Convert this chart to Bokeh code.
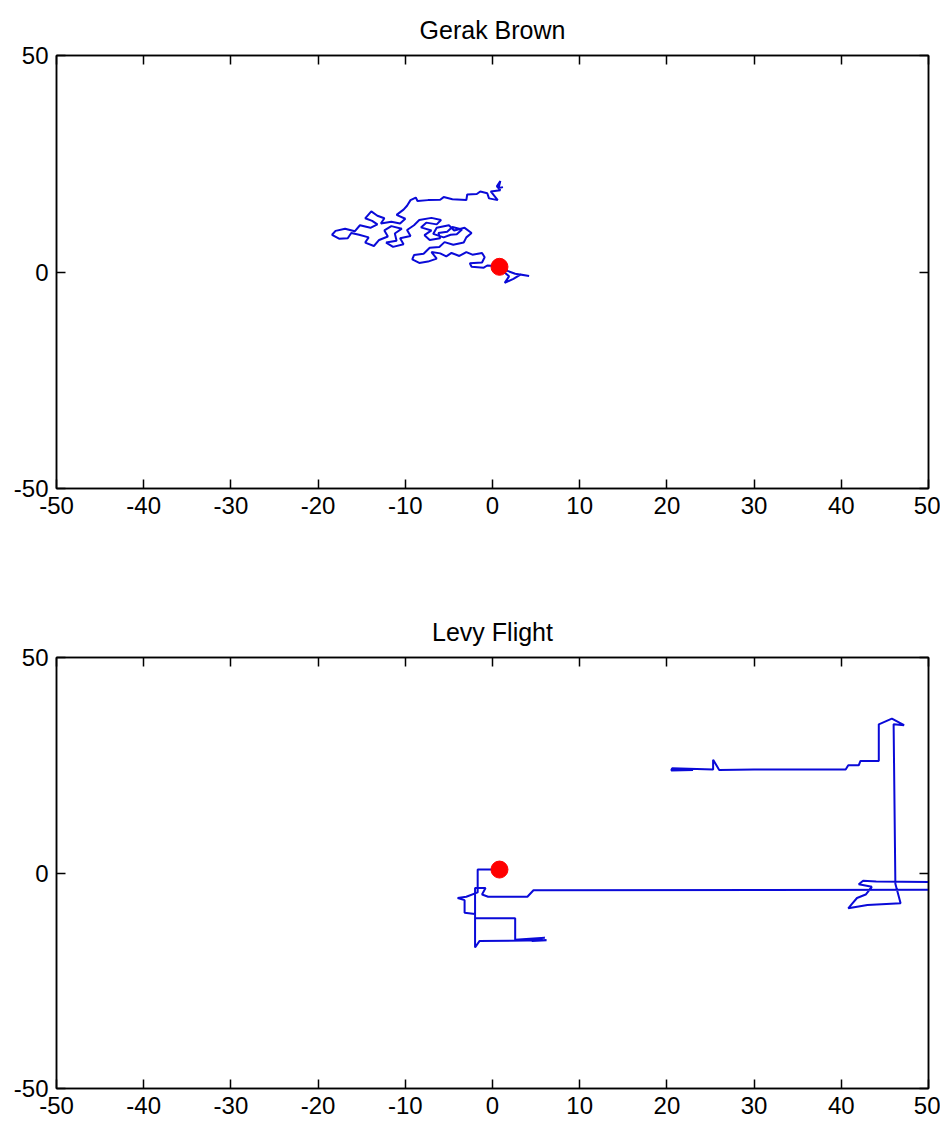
from bokeh.plotting import figure
from bokeh.models import Range1d, FixedTicker, LinearAxis
from bokeh.layouts import column
from bokeh.embed import file_html
from bokeh.resources import INLINE

# ---- data ----
x_ticks = [-50, -40, -30, -20, -10, 0, 10, 20, 30, 40, 50]
y_ticks = [-50, 0, 50]

brown_x = [0.8, 1.8, 2.6, 4.2, 3.2, 2.4, 1.4, 1.9, 1.2, 0.3, -0.6, -1.0, -2.4, -2.6, -1.2, -0.9,
           -1.2, -2.3, -3.0, -3.8, -4.7, -5.3, -6.0, -7.0, -6.4, -7.4, -8.4, -9.2, -9.0, -7.9,
           -7.2, -6.1, -5.5, -4.5, -3.3, -3.0,
           -2.4, -3.2, -4.4, -5.0, -6.4, -6.8, -5.6, -4.8,
           -4.1, -3.5, -4.6, -5.2, -6.2, -6.0, -7.2, -7.8, -7.0, -8.2, -7.6, -6.4, -5.9, -7.0,
           -8.4, -9.0, -9.8, -9.4, -10.6,
           -10.2, -11.4, -12.2, -11.0,
           -11.2, -10.4, -11.6, -12.4, -12.0, -13.0, -13.6, -14.6, -14.2, -15.3, -16.2, -16.6,
           -17.6, -18.4, -18.0, -16.9, -15.8, -15.2,
           -14.0, -13.2, -13.8,
           -14.6, -13.9, -13.2, -12.4, -12.8, -11.6, -10.6, -10.0, -11.0, -10.2, -9.8, -9.4,
           -8.8, -8.6, -7.4, -6.0, -5.6, -4.6, -3.0, -2.9, -1.8, -1.4, -0.6, -0.4, 0.6, -0.2,
           0.9, 0.5, 0.9, 0.7, 1.2]
brown_y = [1.2, 0.2, -0.4, -0.9, -0.6, -1.6, -2.5, -1.0, 0.2, 1.4, 1.5, 1.0, 1.2, 2.0, 2.2, 3.4,
           4.4, 4.0, 4.6, 3.7, 4.4, 3.6, 4.3, 4.6, 3.1, 2.4, 2.1, 2.9, 3.9, 4.2,
           5.6, 5.8, 6.9, 6.3, 6.8, 8.0,
           9.0, 10.2, 9.6, 10.8, 10.2, 8.8, 8.0, 8.6,
           8.7, 9.8, 10.4, 9.3, 9.0, 7.8, 7.4, 8.5, 9.6, 10.3, 11.4, 11.0, 12.0, 12.5,
           12.0, 10.8, 9.7, 8.3, 7.8,
           6.4, 5.8, 6.8, 7.2,
           8.9, 10.0, 10.6, 9.6, 8.2, 7.4, 6.0, 6.8, 8.0, 8.6, 9.0, 7.8,
           7.7, 8.6, 9.5, 10.0, 9.4, 10.8,
           10.2, 11.0, 11.8,
           12.4, 14.0, 13.0, 12.4, 11.2, 11.6, 11.2, 12.3, 13.2, 14.4, 15.3, 16.6,
           17.2, 16.4, 16.6, 16.7, 17.3, 16.8, 16.6, 17.9, 18.0, 18.6, 18.2, 17.0, 16.6, 18.6,
           18.9, 19.8, 21.0, 19.4, 19.6]

levy_x = [0.8, -1.7, -1.7, -3.0, -4.0, -3.2, -3.2, -2.0, -2.0, 2.6, 2.6, 6.0, 4.5, 6.2, -1.5,
          -2.0, -2.0, -0.8, -1.2, -0.5, 4.0, 4.7, 53.0, 53.0, 44.0, 42.5, 42.0, 43.5, 42.8,
          41.8, 41.2, 40.8, 43.0, 46.8, 46.2, 46.0, 47.2, 45.8, 44.3, 44.3, 42.2, 42.0, 40.8,
          40.5, 30.0, 26.0, 25.3, 25.3, 20.6, 20.5, 23.0]
levy_y = [0.8, 0.8, -4.5, -5.5, -5.8, -6.3, -9.2, -9.5, -10.5, -10.5, -15.5, -15.0, -15.8,
          -15.6, -15.8, -17.3, -3.5, -3.5, -5.0, -5.5, -5.5, -4.0, -3.9, -2.1, -2.0, -1.8,
          -2.6, -3.2, -5.0, -5.8, -7.2, -8.2, -7.4, -7.0, -2.5, 34.5, 34.3, 35.8, 34.5, 26.0,
          26.0, 25.0, 25.0, 24.0, 24.0, 23.9, 26.3, 24.0, 24.3, 23.8, 23.9]

start_x = [0.8]
start_y_brown = [1.2]
start_y_levy = [0.8]

FONT = "Liberation Sans"


def make_fig(title, xs, ys, sy, height, border_top, border_bottom):
    p = figure(width=940, height=height, output_backend="svg", toolbar_location=None,
               x_range=Range1d(-50, 50), y_range=Range1d(-50, 50),
               min_border_left=56, min_border_right=12,
               min_border_top=border_top, min_border_bottom=border_bottom,
               title=title)
    p.title.align = "center"
    p.title.vertical_align = "top"
    p.title.text_font = FONT
    p.title.text_font_size = "25px"
    p.title.text_font_style = "normal"
    p.title.text_color = "black"
    p.title.standoff = 20
    p.xgrid.visible = False
    p.ygrid.visible = False
    p.outline_line_color = "black"
    p.outline_line_width = 1.5
    p.background_fill_color = "white"
    p.border_fill_color = "white"

    top = LinearAxis()
    right = LinearAxis()
    p.add_layout(top, "above")
    p.add_layout(right, "right")
    for ax in p.xaxis:
        ax.ticker = FixedTicker(ticks=x_ticks)
    for ax in p.yaxis:
        ax.ticker = FixedTicker(ticks=y_ticks)
    for ax in list(p.xaxis) + list(p.yaxis):
        ax.major_tick_in = 9
        ax.major_tick_out = 0
        ax.minor_tick_line_color = None
        ax.major_tick_line_width = 1.5
        ax.axis_line_width = 1.5
        ax.axis_line_color = "black"
        ax.major_tick_line_color = "black"
        ax.major_label_text_font = FONT
        ax.major_label_text_font_size = "24px"
        ax.major_label_text_color = "black"
        ax.major_label_standoff = 8
    p.xaxis[-1].major_label_overrides = {t: str(t) for t in x_ticks}
    p.yaxis[0].major_label_overrides = {t: str(t) for t in y_ticks}
    top.major_label_overrides = {t: "" for t in x_ticks}
    right.major_label_overrides = {t: "" for t in y_ticks}
    top.major_label_standoff = 0
    right.major_label_standoff = 0

    p.line(xs, ys, line_color="#0a0ad8", line_width=2)
    p.scatter(start_x, sy, size=17, fill_color="#ff0000", line_color="#ff0000")
    return p


p1 = make_fig("Gerak Brown", brown_x, brown_y, start_y_brown, 588, 55, 100)
p2 = make_fig("Levy Flight", levy_x, levy_y, start_y_levy, 538, 69, 38)

layout = column(p1, p2, spacing=0)
open("out.html", "w").write(file_html(layout, INLINE))
